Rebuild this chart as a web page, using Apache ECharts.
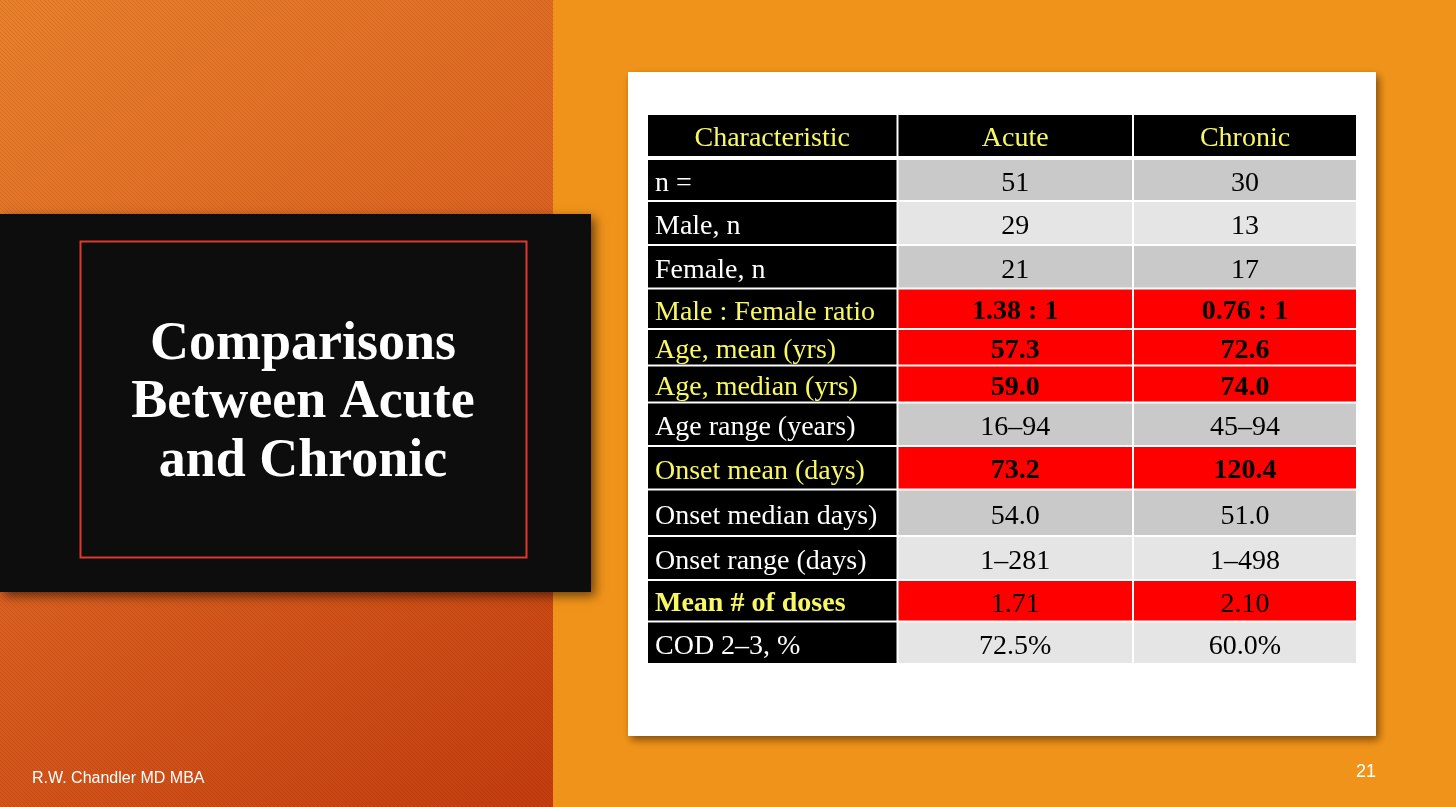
<!DOCTYPE html>
<html>
<head>
<meta charset="utf-8">
<script src="https://cdn.jsdelivr.net/npm/echarts@6/dist/echarts.min.js"></script>
<style>
  html, body { margin: 0; padding: 0; }
  #chart { width: 1456px; height: 807px; }
</style>
</head>
<body>
<div id="chart"></div>
<script>
// 表格数据
const headers = ['Characteristic', 'Acute', 'Chronic'];
const characteristics = ['n =', 'Male, n', 'Female, n', 'Male : Female ratio', 'Age, mean (yrs)', 'Age, median (yrs)',
  'Age range (years)', 'Onset mean (days)', 'Onset median days)', 'Onset range (days)', 'Mean # of doses', 'COD 2–3, %'];
const acuteValues = ['51', '29', '21', '1.38 : 1', '57.3', '59.0', '16–94', '73.2', '54.0', '1–281', '1.71', '72.5%'];
const chronicValues = ['30', '13', '17', '0.76 : 1', '72.6', '74.0', '45–94', '120.4', '51.0', '1–498', '2.10', '60.0%'];

// 行样式：red = 高亮行，dark / light = 灰色行
const rowFill = ['dark', 'light', 'dark', 'red', 'red', 'red', 'dark', 'red', 'dark', 'light', 'red', 'light'];
const boldValueRows = [3, 4, 5, 7];
const boldLabelRows = [10];

// 表格布局（像素，相对表格左上角）
const colEdges = [0, 249.5, 485, 709];
const rowEdges = [0, 43, 86, 130, 173.5, 214, 250.5, 287.5, 331, 374.5, 421, 465, 506.5, 549];

const SERIF = '"Liberation Serif", "Times New Roman", serif';
const SANS = '"Liberation Sans", Arial, sans-serif';
const YELLOW = '#F8F862';
const fills = { dark: '#C9C9C9', light: '#E5E5E5', red: '#FF0000' };

let chart = echarts.init(document.getElementById('chart'));

// 斜纹背景
function makeStripe() {
  let c = document.createElement('canvas');
  c.width = 4; c.height = 4;
  let ctx = c.getContext('2d');
  ctx.strokeStyle = 'rgba(110,25,0,0.13)';
  ctx.lineWidth = 1;
  ctx.beginPath();
  ctx.moveTo(-1, -1); ctx.lineTo(5, 5);
  ctx.moveTo(-3, 1); ctx.lineTo(3, 7);
  ctx.moveTo(1, -3); ctx.lineTo(7, 3);
  ctx.stroke();
  return c;
}

// 单元格数据
let cells = [];
for (let r = 0; r <= characteristics.length; r++) {
  for (let c = 0; c < 3; c++) {
    cells.push([c, r]);
  }
}

function cellText(c, r) {
  if (r === 0) return headers[c];
  if (c === 0) return characteristics[r - 1];
  if (c === 1) return acuteValues[r - 1];
  return chronicValues[r - 1];
}

function renderCell(params, api) {
  let c = api.value(0);
  let r = api.value(1);
  let p0 = api.coord([colEdges[c], rowEdges[r]]);
  let p1 = api.coord([colEdges[c + 1], rowEdges[r + 1]]);

  let gapTop = r === 1 ? 2 : 1;
  let gapBottom = r === 0 ? 2 : 1;
  let x = p0[0] + (c === 0 ? 0 : 1);
  let w = p1[0] - p0[0] - (c === 0 ? 1 : 2);
  let y = p0[1] + (r === 0 ? 0 : gapTop);
  let h = p1[1] - p0[1] - gapBottom - (r === 0 ? 0 : gapTop);

  let fill = '#000';
  let textColor = '#fff';
  let weight = 'normal';
  let style = r > 0 ? rowFill[r - 1] : null;

  if (r === 0) {
    textColor = YELLOW;
  } else if (c === 0) {
    textColor = style === 'red' ? YELLOW : '#fff';
    if (boldLabelRows.indexOf(r - 1) >= 0) weight = 'bold';
  } else {
    fill = fills[style];
    textColor = '#000';
    if (boldValueRows.indexOf(r - 1) >= 0) weight = 'bold';
  }

  let left = c === 0 && r > 0;

  return {
    type: 'group',
    children: [{
      type: 'rect',
      shape: { x: x, y: y, width: w, height: h },
      style: { fill: fill }
    }, {
      type: 'text',
      style: {
        text: cellText(c, r),
        x: left ? x + 7 : x + w / 2,
        y: y + h / 2 + 3.5,
        fill: textColor,
        font: weight + ' 28px ' + SERIF,
        textAlign: left ? 'left' : 'center',
        textVerticalAlign: 'middle'
      }
    }]
  };
}

let option = {
  animation: false,
  grid: { left: 648, top: 115, width: 709, height: 549 },
  xAxis: { type: 'value', min: 0, max: 709, show: false },
  yAxis: { type: 'value', min: 0, max: 549, inverse: true, show: false },
  graphic: [
    // 右侧底色
    { type: 'rect', z: -20, shape: { x: 0, y: 0, width: 1456, height: 807 }, style: { fill: '#F0931A' } },
    // 左侧渐变
    {
      type: 'rect', z: -19, shape: { x: 0, y: 0, width: 553, height: 807 },
      style: {
        fill: new echarts.graphic.LinearGradient(0, 0, 1, 1, [
          { offset: 0, color: '#E8812C' },
          { offset: 0.5, color: '#DA6221' },
          { offset: 1, color: '#C23C0E' }
        ])
      }
    },
    { type: 'rect', z: -18, shape: { x: 0, y: 0, width: 553, height: 807 }, style: { fill: { image: makeStripe(), repeat: 'repeat' } } },
    // 标题黑框
    {
      type: 'rect', z: -10, shape: { x: 0, y: 214, width: 591, height: 378 },
      style: { fill: '#0D0D0D', shadowBlur: 10, shadowOffsetX: 4, shadowOffsetY: 4, shadowColor: 'rgba(0,0,0,0.55)' }
    },
    {
      type: 'rect', z: -9, shape: { x: 80.5, y: 241.5, width: 446, height: 316 },
      style: { fill: null, stroke: '#E0382C', lineWidth: 2 }
    },
    { type: 'text', z: -8, style: { text: 'Comparisons', x: 303, y: 345, fill: '#fff', font: 'bold 54px ' + SERIF, textAlign: 'center', textVerticalAlign: 'middle' } },
    { type: 'text', z: -8, style: { text: 'Between Acute', x: 303, y: 403, fill: '#fff', font: 'bold 54px ' + SERIF, textAlign: 'center', textVerticalAlign: 'middle' } },
    { type: 'text', z: -8, style: { text: 'and Chronic', x: 303, y: 462, fill: '#fff', font: 'bold 54px ' + SERIF, textAlign: 'center', textVerticalAlign: 'middle' } },
    // 白色卡片
    {
      type: 'rect', z: -10, shape: { x: 628, y: 72, width: 748, height: 664 },
      style: { fill: '#fff', shadowBlur: 8, shadowOffsetX: 3, shadowOffsetY: 4, shadowColor: 'rgba(60,30,0,0.6)' }
    },
    // 页脚
    { type: 'text', z: -8, style: { text: 'R.W. Chandler MD MBA', x: 32, y: 779, fill: '#fff', font: '16px ' + SANS, textAlign: 'left', textVerticalAlign: 'middle' } },
    { type: 'text', z: -8, style: { text: '21', x: 1376, y: 772, fill: '#fff', font: '18px ' + SANS, textAlign: 'right', textVerticalAlign: 'middle' } }
  ],
  series: [{
    type: 'custom',
    z: 10,
    renderItem: renderCell,
    data: cells
  }]
};

chart.setOption(option);
</script>
</body>
</html>
